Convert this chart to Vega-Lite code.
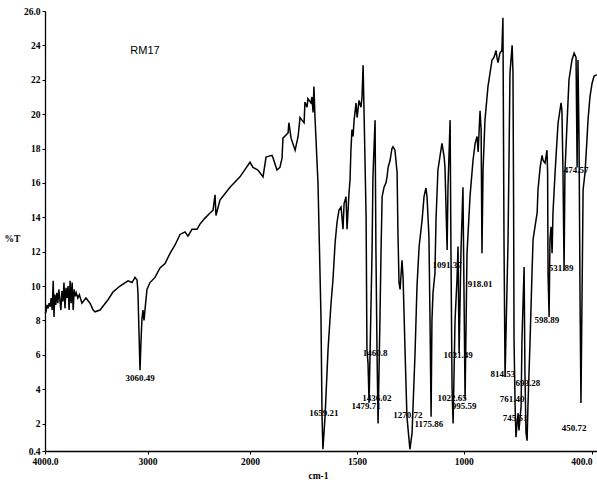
{
  "$schema": "https://vega.github.io/schema/vega-lite/v6.json",
  "autosize": {"type": "none"},
  "padding": {"left": 45, "top": 11, "right": 0, "bottom": 32},
  "width": 552,
  "height": 440,
  "background": "white",
  "config": {
    "view": {"stroke": null},
    "axis": {
      "grid": false,
      "domainColor": "black",
      "domainWidth": 1.3,
      "tickColor": "black",
      "tickSize": 3,
      "labelFont": "Liberation Serif",
      "labelFontSize": 9.5,
      "labelFontWeight": "bold",
      "labelColor": "black",
      "labelOverlap": false,
      "titleFont": "Liberation Serif",
      "titleFontSize": 9.5,
      "titleFontWeight": "bold",
      "titleColor": "black"
    }
  },
  "datasets": {
    "spectrum": [
      {"wn": 3998, "T": 8.4}, {"wn": 3990, "T": 8.5}, {"wn": 3980, "T": 8.9}, {"wn": 3970, "T": 8.7},
      {"wn": 3960, "T": 9.0}, {"wn": 3950, "T": 8.8}, {"wn": 3940, "T": 9.3}, {"wn": 3930, "T": 8.6},
      {"wn": 3920, "T": 10.3}, {"wn": 3912, "T": 8.2}, {"wn": 3905, "T": 9.5}, {"wn": 3895, "T": 8.9},
      {"wn": 3885, "T": 9.6}, {"wn": 3875, "T": 9.0}, {"wn": 3865, "T": 9.8}, {"wn": 3855, "T": 9.2},
      {"wn": 3845, "T": 8.6}, {"wn": 3835, "T": 9.7}, {"wn": 3825, "T": 9.1}, {"wn": 3815, "T": 10.2},
      {"wn": 3805, "T": 8.7}, {"wn": 3795, "T": 9.9}, {"wn": 3785, "T": 9.3}, {"wn": 3775, "T": 10.0},
      {"wn": 3765, "T": 8.6}, {"wn": 3755, "T": 10.3}, {"wn": 3745, "T": 9.0}, {"wn": 3735, "T": 10.2},
      {"wn": 3725, "T": 8.6}, {"wn": 3715, "T": 9.8}, {"wn": 3705, "T": 9.4}, {"wn": 3695, "T": 9.6},
      {"wn": 3680, "T": 9.3}, {"wn": 3665, "T": 9.5}, {"wn": 3650, "T": 9.2}, {"wn": 3640, "T": 9.0},
      {"wn": 3600, "T": 9.3}, {"wn": 3561, "T": 9.0}, {"wn": 3530, "T": 8.6}, {"wn": 3512, "T": 8.5},
      {"wn": 3463, "T": 8.6}, {"wn": 3385, "T": 9.2}, {"wn": 3337, "T": 9.65}, {"wn": 3268, "T": 10.0},
      {"wn": 3190, "T": 10.3}, {"wn": 3151, "T": 10.2}, {"wn": 3122, "T": 10.5}, {"wn": 3102, "T": 10.35},
      {"wn": 3093, "T": 9.6}, {"wn": 3083, "T": 7.3}, {"wn": 3073, "T": 5.1}, {"wn": 3063, "T": 6.85},
      {"wn": 3054, "T": 8.1}, {"wn": 3044, "T": 8.6}, {"wn": 3034, "T": 8.0}, {"wn": 3020, "T": 8.9},
      {"wn": 3005, "T": 9.8}, {"wn": 2976, "T": 10.2}, {"wn": 2927, "T": 10.5}, {"wn": 2878, "T": 11.05},
      {"wn": 2829, "T": 11.3}, {"wn": 2780, "T": 11.9}, {"wn": 2730, "T": 12.4}, {"wn": 2683, "T": 13.0},
      {"wn": 2634, "T": 13.15}, {"wn": 2605, "T": 12.9}, {"wn": 2566, "T": 13.3}, {"wn": 2517, "T": 13.3},
      {"wn": 2488, "T": 13.6}, {"wn": 2439, "T": 13.95}, {"wn": 2390, "T": 14.25}, {"wn": 2361, "T": 14.4},
      {"wn": 2341, "T": 15.3}, {"wn": 2332, "T": 14.1}, {"wn": 2293, "T": 15.0}, {"wn": 2195, "T": 15.75},
      {"wn": 2098, "T": 16.35}, {"wn": 2000, "T": 17.2}, {"wn": 1986, "T": 16.9}, {"wn": 1963, "T": 16.75},
      {"wn": 1939, "T": 16.35}, {"wn": 1925, "T": 17.5}, {"wn": 1897, "T": 17.6}, {"wn": 1892, "T": 17.45},
      {"wn": 1874, "T": 16.75}, {"wn": 1860, "T": 16.9}, {"wn": 1850, "T": 17.45}, {"wn": 1846, "T": 18.6},
      {"wn": 1822, "T": 18.9}, {"wn": 1818, "T": 19.5}, {"wn": 1808, "T": 18.6}, {"wn": 1789, "T": 17.9},
      {"wn": 1775, "T": 18.7}, {"wn": 1766, "T": 19.8}, {"wn": 1757, "T": 19.65}, {"wn": 1747, "T": 19.5},
      {"wn": 1743, "T": 20.7}, {"wn": 1733, "T": 20.4}, {"wn": 1729, "T": 20.9}, {"wn": 1715, "T": 20.65},
      {"wn": 1710, "T": 21.0}, {"wn": 1705, "T": 20.1}, {"wn": 1701, "T": 21.6}, {"wn": 1696, "T": 19.8},
      {"wn": 1682, "T": 16.0}, {"wn": 1668, "T": 8.2}, {"wn": 1663, "T": 2.4}, {"wn": 1659, "T": 0.5},
      {"wn": 1649, "T": 2.4}, {"wn": 1635, "T": 6.3}, {"wn": 1621, "T": 9.0}, {"wn": 1612, "T": 10.35},
      {"wn": 1602, "T": 12.5}, {"wn": 1593, "T": 13.7}, {"wn": 1584, "T": 14.4}, {"wn": 1574, "T": 14.6},
      {"wn": 1565, "T": 13.3}, {"wn": 1560, "T": 14.8}, {"wn": 1551, "T": 15.2}, {"wn": 1546, "T": 13.3},
      {"wn": 1537, "T": 15.4}, {"wn": 1532, "T": 16.2}, {"wn": 1528, "T": 17.9}, {"wn": 1523, "T": 19.1},
      {"wn": 1518, "T": 18.7}, {"wn": 1513, "T": 19.65}, {"wn": 1504, "T": 20.65}, {"wn": 1499, "T": 19.8},
      {"wn": 1490, "T": 20.8}, {"wn": 1481, "T": 20.4}, {"wn": 1476, "T": 21.0}, {"wn": 1471, "T": 22.85},
      {"wn": 1467, "T": 20.4}, {"wn": 1457, "T": 14.0}, {"wn": 1453, "T": 6.3}, {"wn": 1448, "T": 5.5},
      {"wn": 1443, "T": 3.2}, {"wn": 1429, "T": 12.1}, {"wn": 1425, "T": 16.35}, {"wn": 1415, "T": 19.65},
      {"wn": 1411, "T": 12.1}, {"wn": 1406, "T": 6.3}, {"wn": 1401, "T": 2.0}, {"wn": 1392, "T": 8.2},
      {"wn": 1387, "T": 12.1}, {"wn": 1382, "T": 15.2}, {"wn": 1373, "T": 15.75}, {"wn": 1364, "T": 16.0},
      {"wn": 1359, "T": 16.35}, {"wn": 1354, "T": 16.9}, {"wn": 1345, "T": 17.3}, {"wn": 1336, "T": 18.0},
      {"wn": 1331, "T": 18.1}, {"wn": 1322, "T": 17.9}, {"wn": 1312, "T": 16.6}, {"wn": 1308, "T": 13.1},
      {"wn": 1303, "T": 10.2}, {"wn": 1298, "T": 9.8}, {"wn": 1289, "T": 11.5}, {"wn": 1284, "T": 10.5},
      {"wn": 1275, "T": 6.3}, {"wn": 1266, "T": 2.4}, {"wn": 1252, "T": 0.5}, {"wn": 1242, "T": 1.45},
      {"wn": 1238, "T": 2.8}, {"wn": 1228, "T": 6.1}, {"wn": 1219, "T": 9.95}, {"wn": 1209, "T": 12.3},
      {"wn": 1195, "T": 13.85}, {"wn": 1186, "T": 15.2}, {"wn": 1177, "T": 15.7}, {"wn": 1172, "T": 15.2},
      {"wn": 1163, "T": 12.85}, {"wn": 1158, "T": 8.0}, {"wn": 1153, "T": 2.4}, {"wn": 1149, "T": 8.0},
      {"wn": 1144, "T": 9.6}, {"wn": 1135, "T": 10.75}, {"wn": 1130, "T": 13.85}, {"wn": 1121, "T": 16.75},
      {"wn": 1107, "T": 17.9}, {"wn": 1102, "T": 18.3}, {"wn": 1092, "T": 17.5}, {"wn": 1088, "T": 16.9},
      {"wn": 1078, "T": 12.1}, {"wn": 1074, "T": 15.75}, {"wn": 1064, "T": 19.65}, {"wn": 1060, "T": 11.9},
      {"wn": 1055, "T": 4.1}, {"wn": 1050, "T": 2.0}, {"wn": 1041, "T": 8.0}, {"wn": 1032, "T": 10.35},
      {"wn": 1027, "T": 12.3}, {"wn": 1022, "T": 6.1}, {"wn": 1013, "T": 12.1}, {"wn": 1004, "T": 15.75},
      {"wn": 994, "T": 3.4}, {"wn": 985, "T": 11.9}, {"wn": 971, "T": 15.2}, {"wn": 957, "T": 17.3},
      {"wn": 947, "T": 18.3}, {"wn": 938, "T": 18.7}, {"wn": 933, "T": 17.8}, {"wn": 924, "T": 20.2},
      {"wn": 919, "T": 19.1}, {"wn": 915, "T": 11.9}, {"wn": 910, "T": 16.75}, {"wn": 901, "T": 19.65},
      {"wn": 887, "T": 21.6}, {"wn": 868, "T": 23.15}, {"wn": 859, "T": 23.3}, {"wn": 849, "T": 23.7},
      {"wn": 845, "T": 23.3}, {"wn": 840, "T": 23.0}, {"wn": 831, "T": 23.55}, {"wn": 822, "T": 23.7},
      {"wn": 817, "T": 25.6}, {"wn": 812, "T": 12.7}, {"wn": 807, "T": 4.7}, {"wn": 793, "T": 12.7},
      {"wn": 784, "T": 22.4}, {"wn": 774, "T": 24.0}, {"wn": 770, "T": 22.4}, {"wn": 767, "T": 14.6},
      {"wn": 765, "T": 6.85}, {"wn": 760, "T": 3.0}, {"wn": 756, "T": 1.2}, {"wn": 751, "T": 2.0},
      {"wn": 746, "T": 2.6}, {"wn": 742, "T": 1.6}, {"wn": 732, "T": 3.0}, {"wn": 728, "T": 6.85},
      {"wn": 718, "T": 11.1}, {"wn": 714, "T": 4.9}, {"wn": 709, "T": 1.45}, {"wn": 704, "T": 1.0},
      {"wn": 700, "T": 3.0}, {"wn": 690, "T": 6.85}, {"wn": 681, "T": 10.75}, {"wn": 676, "T": 12.7},
      {"wn": 667, "T": 13.45}, {"wn": 657, "T": 14.25}, {"wn": 653, "T": 15.6}, {"wn": 643, "T": 16.9},
      {"wn": 634, "T": 17.6}, {"wn": 629, "T": 17.3}, {"wn": 620, "T": 17.15}, {"wn": 611, "T": 17.9},
      {"wn": 608, "T": 16.6}, {"wn": 606, "T": 10.75}, {"wn": 601, "T": 8.2}, {"wn": 597, "T": 12.7},
      {"wn": 592, "T": 13.45}, {"wn": 587, "T": 11.9}, {"wn": 583, "T": 14.25}, {"wn": 573, "T": 16.6},
      {"wn": 564, "T": 18.5}, {"wn": 559, "T": 19.5}, {"wn": 545, "T": 20.65}, {"wn": 541, "T": 20.2},
      {"wn": 536, "T": 16.6}, {"wn": 531, "T": 10.9}, {"wn": 527, "T": 16.6}, {"wn": 517, "T": 19.5},
      {"wn": 508, "T": 22.0}, {"wn": 494, "T": 23.15}, {"wn": 484, "T": 23.55}, {"wn": 475, "T": 23.3},
      {"wn": 470, "T": 16.9}, {"wn": 466, "T": 23.15}, {"wn": 461, "T": 18.5}, {"wn": 456, "T": 8.8},
      {"wn": 452, "T": 3.2}, {"wn": 442, "T": 15.6}, {"wn": 433, "T": 16.6}, {"wn": 424, "T": 18.5},
      {"wn": 419, "T": 19.65}, {"wn": 410, "T": 21.0}, {"wn": 400, "T": 21.8}, {"wn": 391, "T": 22.2},
      {"wn": 378, "T": 22.3}
    ],
    "labels": [
      {"wn": 3073, "T": 4.65, "text": "3060.49"},
      {"wn": 1654, "T": 2.6, "text": "1659.21"},
      {"wn": 1457, "T": 3.0, "text": "1479.71"},
      {"wn": 1406, "T": 3.5, "text": "1436.02"},
      {"wn": 1415, "T": 6.1, "text": "1460.8"},
      {"wn": 1261, "T": 2.5, "text": "1270.72"},
      {"wn": 1163, "T": 2.0, "text": "1175.86"},
      {"wn": 1078, "T": 11.2, "text": "1091.37"},
      {"wn": 924, "T": 10.1, "text": "918.01"},
      {"wn": 1027, "T": 6.0, "text": "1031.49"},
      {"wn": 1055, "T": 3.5, "text": "1022.65"},
      {"wn": 999, "T": 3.0, "text": "995.59"},
      {"wn": 817, "T": 4.9, "text": "814.53"},
      {"wn": 700, "T": 4.35, "text": "693.28"},
      {"wn": 774, "T": 3.4, "text": "761.40"},
      {"wn": 760, "T": 2.3, "text": "745.51"},
      {"wn": 611, "T": 8.0, "text": "598.89"},
      {"wn": 545, "T": 11.05, "text": "531.89"},
      {"wn": 475, "T": 16.75, "text": "474.57"},
      {"wn": 484, "T": 1.75, "text": "450.72"}
    ],
    "sample": [
      {"wn": 3024, "T": 23.7, "text": "RM17"}
    ]
  },
  "layer": [
    {
      "data": {"name": "spectrum"},
      "mark": {"type": "line", "color": "black", "strokeWidth": 1.5, "interpolate": "linear"},
      "encoding": {
        "x": {
          "field": "wn", "type": "quantitative", "sort": null,
          "scale": {"domain": [4000, 2000, 377], "range": [0, 205, 552], "zero": false, "nice": false},
          "axis": {
            "title": "cm-1",
            "titleX": 273, "titleY": 24, "titleBaseline": "middle", "titleAlign": "center",
            "values": [4000, 3000, 2000, 1500, 1000, 400],
            "tickCount": 30,
            "labelExpr": "datum.value == 4000 ? '4000.0' : datum.value == 400 ? '400.0' : format(datum.value, 'd')",
            "labelAlign": {"condition": {"test": "datum.value == 400", "value": "right"}, "value": "center"},
            "labelPadding": 2,
            "labelOverlap": false,
            "labelFlush": false
          }
        },
        "y": {
          "field": "T", "type": "quantitative",
          "scale": {"domain": [0.4, 26], "zero": false, "nice": false},
          "axis": {
            "title": "%T",
            "titleAngle": 0, "titleX": -33, "titleY": 227, "titleAlign": "center", "titleBaseline": "middle",
            "values": [0.4, 2, 4, 6, 8, 10, 12, 14, 16, 18, 20, 22, 24, 26],
            "tickCount": 30,
            "labelExpr": "datum.value == 26 ? '26.0' : datum.value == 0.4 ? '0.4' : format(datum.value, 'd')",
            "labelOverlap": false,
            "labelFlush": false,
            "labelPadding": 2
          }
        }
      }
    },
    {
      "data": {"name": "labels"},
      "mark": {"type": "text", "font": "Liberation Serif", "fontSize": 9, "fontWeight": "bold", "color": "black", "align": "center", "baseline": "middle"},
      "encoding": {
        "x": {"field": "wn", "type": "quantitative", "scale": {"domain": [4000, 2000, 377], "range": [0, 205, 552], "zero": false, "nice": false}},
        "y": {"field": "T", "type": "quantitative", "scale": {"domain": [0.4, 26], "zero": false, "nice": false}},
        "text": {"field": "text"}
      }
    },
    {
      "data": {"name": "sample"},
      "mark": {"type": "text", "font": "Liberation Sans", "fontSize": 11, "color": "black", "align": "center", "baseline": "middle"},
      "encoding": {
        "x": {"field": "wn", "type": "quantitative", "scale": {"domain": [4000, 2000, 377], "range": [0, 205, 552], "zero": false, "nice": false}},
        "y": {"field": "T", "type": "quantitative", "scale": {"domain": [0.4, 26], "zero": false, "nice": false}},
        "text": {"field": "text"}
      }
    }
  ]
}
